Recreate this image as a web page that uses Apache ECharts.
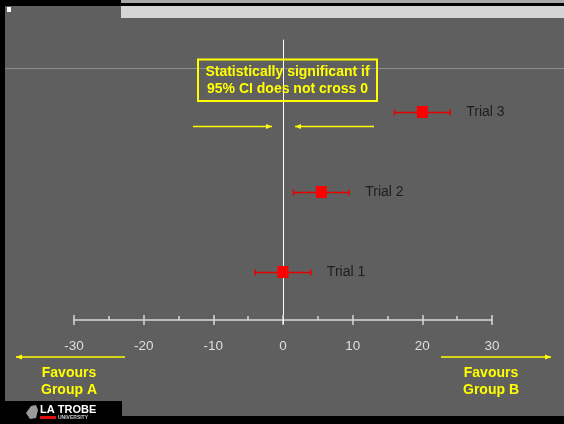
<!DOCTYPE html>
<html><head><meta charset="utf-8">
<script src="https://cdn.jsdelivr.net/npm/echarts@6/dist/echarts.min.js"></script>
<style>html,body{margin:0;padding:0;background:#000;}#c{width:564px;height:424px;}</style>
</head><body><div id="c"></div>
<script>
const trials = ['Trial 1', 'Trial 2', 'Trial 3'];
const rowPos = [1, 2, 3];
const estimates = [0, 5.5, 20];
const ciLow = [-4, 1.5, 16];
const ciHigh = [4, 9.5, 24];
const xMin = -30, xMax = 30, xStep = 10;
const noteLines = ['Statistically significant if', '95% CI does not cross 0'];
const leftFavour = ['Favours', 'Group A'];
const rightFavour = ['Favours', 'Group B'];

const chart = echarts.init(document.getElementById('c'), null, {renderer: 'canvas'});
const YEL = '#ffff00';
const font = 'Liberation Sans, Arial, sans-serif';

function arrow(x1, x2, y, headAtEnd) {
  const hx = headAtEnd ? x2 : x1;
  const d = headAtEnd ? -1 : 1;
  return [
    {type: 'line', shape: {x1: x1, y1: y, x2: x2, y2: y}, style: {stroke: YEL, lineWidth: 1.5}},
    {type: 'polygon', shape: {points: [[hx, y], [hx + d * 6, y - 2.5], [hx + d * 6, y + 2.5]]}, style: {fill: YEL}}
  ];
}

const graphics = [
  {type: 'rect', shape: {x: 5, y: 6, width: 559, height: 410}, style: {fill: '#5f5f5f'}, z: -10},
  {type: 'rect', shape: {x: 121, y: 6, width: 443, height: 12}, style: {fill: '#d4d4d4'}, z: -9},
  {type: 'rect', shape: {x: 121, y: 0, width: 443, height: 3}, style: {fill: '#a8a8a8'}, z: -9},
  {type: 'rect', shape: {x: 7, y: 7, width: 4, height: 5}, style: {fill: '#ffffff'}, z: -9},
  {type: 'line', shape: {x1: 5, y1: 68.5, x2: 564, y2: 68.5}, style: {stroke: '#8c8c8c', lineWidth: 1}, z: -9},
  {type: 'line', shape: {x1: 283.5, y1: 318, x2: 283.5, y2: 324}, style: {stroke: '#ffffff', lineWidth: 1}, z: 5},
  // note box
  {type: 'rect', shape: {x: 198, y: 59.5, width: 179, height: 41.5}, style: {fill: null, stroke: YEL, lineWidth: 2}, z: 10},
  {type: 'text', x: 287.5, y: 72.5, style: {text: noteLines[0], fill: YEL, font: 'bold 14px ' + font, align: 'center', verticalAlign: 'middle'}, z: 10},
  {type: 'text', x: 287.5, y: 89, style: {text: noteLines[1], fill: YEL, font: 'bold 14px ' + font, align: 'center', verticalAlign: 'middle'}, z: 10},
  ...arrow(193, 272, 126.5, true),
  ...arrow(295, 374, 126.5, false),
  ...arrow(16, 125, 357, false),
  ...arrow(441, 551, 357, true),
  {type: 'text', x: 69, y: 373.5, style: {text: leftFavour[0], fill: YEL, font: 'bold 14px ' + font, align: 'center', verticalAlign: 'middle'}},
  {type: 'text', x: 69, y: 390.5, style: {text: leftFavour[1], fill: YEL, font: 'bold 14px ' + font, align: 'center', verticalAlign: 'middle'}},
  {type: 'text', x: 491, y: 373.5, style: {text: rightFavour[0], fill: YEL, font: 'bold 14px ' + font, align: 'center', verticalAlign: 'middle'}},
  {type: 'text', x: 491, y: 390.5, style: {text: rightFavour[1], fill: YEL, font: 'bold 14px ' + font, align: 'center', verticalAlign: 'middle'}},
  // logo
  {type: 'rect', shape: {x: 0, y: 401, width: 122, height: 23}, style: {fill: '#000'}},
  {type: 'polygon', shape: {points: [[26, 413], [31, 406], [36, 405], [38, 410], [36, 418], [30, 419]]}, style: {fill: '#9a9a9a'}},
  {type: 'text', x: 40, y: 410, style: {text: 'LA TROBE', fill: '#ffffff', font: 'bold 11px ' + font, align: 'left', verticalAlign: 'middle'}},
  {type: 'rect', shape: {x: 40, y: 416, width: 16, height: 3}, style: {fill: '#e01010'}},
  {type: 'text', x: 58, y: 417.5, style: {text: 'UNIVERSITY', fill: '#cccccc', font: 'bold 5px ' + font, align: 'left', verticalAlign: 'middle'}}
];

const ciData = trials.map((t, i) => [ciLow[i], ciHigh[i], rowPos[i], t]);
const ptData = trials.map((t, i) => [estimates[i], rowPos[i]]);

chart.setOption({
  backgroundColor: '#000',
  animation: false,
  graphic: graphics,
  grid: {left: 74, right: 72, top: 40, bottom: 104, outerBoundsMode: 'none'},
  xAxis: [{
    type: 'value', min: xMin, max: xMax, interval: xStep,
    splitLine: {show: false},
    axisLine: {show: true, onZero: false, lineStyle: {color: '#d8d8d8', width: 1.5}},
    axisTick: {show: true, inside: true, length: 5, lineStyle: {color: '#d8d8d8', width: 1.5}},
    minorTick: {show: true, splitNumber: 2, length: 4, lineStyle: {color: '#d8d8d8', width: 1.5}},
    axisLabel: {color: '#dedede', fontSize: 13.5, fontFamily: font, margin: 19}
  }, {
    type: 'value', min: xMin, max: xMax, interval: xStep, position: 'bottom',
    splitLine: {show: false},
    axisLine: {show: false, onZero: false},
    axisTick: {show: true, inside: false, length: 5, lineStyle: {color: '#d8d8d8', width: 1.5}},
    axisLabel: {show: false}
  }],
  yAxis: {
    type: 'value', min: 0.4, max: 3.9,
    splitLine: {show: false},
    axisLine: {show: true, onZero: true, lineStyle: {color: '#ffffff', width: 1}},
    axisTick: {show: false},
    axisLabel: {show: false}
  },
  series: [{
    type: 'custom',
    data: ciData,
    z: 3,
    renderItem: function (params, api) {
      const lo = api.coord([api.value(0), api.value(2)]);
      const hi = api.coord([api.value(1), api.value(2)]);
      const y = Math.round(lo[1]) + 0.5;
      const st = {stroke: '#e80000', lineWidth: 1.5};
      return {type: 'group', children: [
        {type: 'line', shape: {x1: lo[0], y1: y, x2: hi[0], y2: y}, style: st},
        {type: 'line', shape: {x1: lo[0], y1: y - 3, x2: lo[0], y2: y + 3}, style: st},
        {type: 'line', shape: {x1: hi[0], y1: y - 3, x2: hi[0], y2: y + 3}, style: st},
        {type: 'text', x: hi[0] + 16, y: y, style: {text: api.value(3), fill: '#1e1e1e', font: '14px ' + font, align: 'left', verticalAlign: 'middle'}}
      ]};
    }
  }, {
    type: 'scatter',
    data: ptData,
    symbol: 'rect',
    symbolSize: [11, 12],
    itemStyle: {color: '#ff0000', opacity: 1},
    z: 5
  }, {
    type: 'line', xAxisIndex: 1, data: [], silent: true
  }]
});
</script></body></html>
